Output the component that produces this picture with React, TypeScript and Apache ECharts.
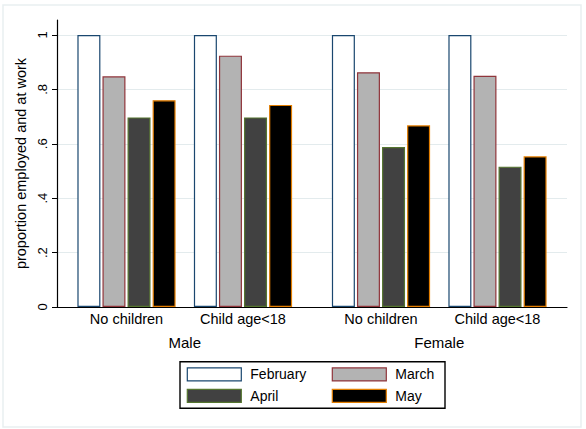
import React, { useEffect, useRef } from 'react';
import * as echarts from 'echarts';

// ---- data ----
const groups = ['No children', 'Child age<18'];
const sexes = ['Male', 'Female'];
const months = ['February', 'March', 'April', 'May'];

const maleFeb = [1.0, 1.0];
const maleMar = [0.848, 0.924];
const maleApr = [0.697, 0.697];
const maleMay = [0.76, 0.743];

const femaleFeb = [1.0, 1.0];
const femaleMar = [0.863, 0.85];
const femaleApr = [0.588, 0.516];
const femaleMay = [0.668, 0.554];

const yTicks = [0, 0.2, 0.4, 0.6, 0.8, 1];
const yMax = 1.055;
const yTitle = 'proportion employed and at work';

// ---- styles ----
const fills = ['#ffffff', '#b3b3b3', '#414141', '#000000'];
const borders = ['#1a476f', '#90353b', '#55752f', '#e37e00'];
const FONT = '"Liberation Sans", Arial, Helvetica, sans-serif';

const fmtTick = (v: number) => {
  if (v === 0) return '0';
  if (v === 1) return '1';
  return v.toFixed(1).replace(/^0/, '');
};

export default function App() {
  const ref = useRef<HTMLDivElement>(null);

  useEffect(() => {
    if (!ref.current) return;
    const chart = echarts.init(ref.current, null, { renderer: 'svg' });

    const sets = [
      [maleFeb, maleMar, maleApr, maleMay],
      [femaleFeb, femaleMar, femaleApr, femaleMay],
    ];
    const series: any[] = [];
    sets.forEach((set, g) => {
      set.forEach((vals, m) => {
        series.push({
          type: 'bar',
          name: months[m],
          xAxisIndex: g + 1,
          yAxisIndex: g + 1,
          data: vals,
          barWidth: 23,
          barGap: '9%',
          itemStyle: { color: fills[m], borderColor: borders[m], borderWidth: 1.2 },
          emphasis: { disabled: true },
          silent: true,
        });
      });
    });

    const legendItem = (m: number) => ({
      name: months[m],
      itemStyle: { color: fills[m], borderColor: borders[m], borderWidth: 1.2 },
    });
    const legendBase = {
      orient: 'vertical',
      icon: 'rect',
      padding: 0,
      itemWidth: 54,
      itemHeight: 13,
      itemGap: 5.5,
      selectedMode: false,
      textStyle: {
        fontFamily: FONT,
        fontSize: 14,
        color: '#000',
        lineHeight: 16,
        padding: [0, 0, 0, 4],
      },
    };

    const catAxis = (g: number) => ({
      type: 'category',
      gridIndex: g + 1,
      data: groups,
      axisLine: { show: false },
      axisTick: { show: false },
      axisLabel: { fontFamily: FONT, fontSize: 14.5, color: '#000', margin: 4 },
      name: sexes[g],
      nameLocation: 'middle',
      nameGap: 28,
      nameTextStyle: { fontFamily: FONT, fontSize: 15, color: '#000' },
      splitLine: { show: false },
    });
    const hiddenY = (g: number) => ({
      type: 'value',
      gridIndex: g + 1,
      min: 0,
      max: yMax,
      show: false,
    });

    chart.setOption({
      animation: false,
      backgroundColor: '#ffffff',
      grid: [
        { left: 57, top: 20, width: 510, height: 287 },
        { left: 68.25, top: 20, width: 233, height: 287 },
        { left: 322.75, top: 20, width: 233, height: 287 },
      ],
      xAxis: [
        {
          type: 'value',
          gridIndex: 0,
          min: 0,
          max: 1,
          z: 5,
          axisLine: { show: true, onZero: false, lineStyle: { color: '#000', width: 1.2 } },
          axisTick: { show: false },
          axisLabel: { show: false },
          splitLine: { show: false },
        },
        catAxis(0),
        catAxis(1),
      ],
      yAxis: [
        {
          type: 'value',
          gridIndex: 0,
          min: 0,
          max: yMax,
          axisLine: { show: true, lineStyle: { color: '#000', width: 1.2 } },
          axisTick: {
            show: true,
            length: 5,
            customValues: yTicks,
            lineStyle: { color: '#000', width: 1 },
          },
          axisLabel: {
            customValues: yTicks,
            rotate: 90,
            margin: 8,
            fontFamily: FONT,
            fontSize: 13,
            color: '#000',
            formatter: (v: number) => fmtTick(v),
          },
          splitLine: { show: true, lineStyle: { color: '#e3ebed', width: 1 } },
          name: yTitle,
          nameLocation: 'middle',
          nameRotate: 90,
          nameGap: 23,
          nameTextStyle: { fontFamily: FONT, fontSize: 14.5, color: '#000' },
        },
        hiddenY(0),
        hiddenY(1),
      ],
      legend: [
        { ...legendBase, left: 186.7, top: 366.4, data: [legendItem(0), legendItem(2)] },
        { ...legendBase, left: 331.7, top: 366.4, data: [legendItem(1), legendItem(3)] },
      ],
      graphic: [
        {
          type: 'rect',
          z: -10,
          silent: true,
          shape: { x: 3, y: 5, width: 578, height: 422 },
          style: { fill: '#ffffff', stroke: '#e9eff1', lineWidth: 1.5 },
        },
        {
          type: 'rect',
          silent: true,
          shape: { x: 180, y: 361.7, width: 265, height: 46.6 },
          style: { fill: 'none', stroke: '#000', lineWidth: 1.4 },
        },
      ],
      series,
    });

    return () => chart.dispose();
  }, []);

  return (
    <div
      ref={ref}
      style={{ position: 'fixed', left: 0, top: 0, width: 586, height: 429, background: '#fafcfc' }}
    />
  );
}
